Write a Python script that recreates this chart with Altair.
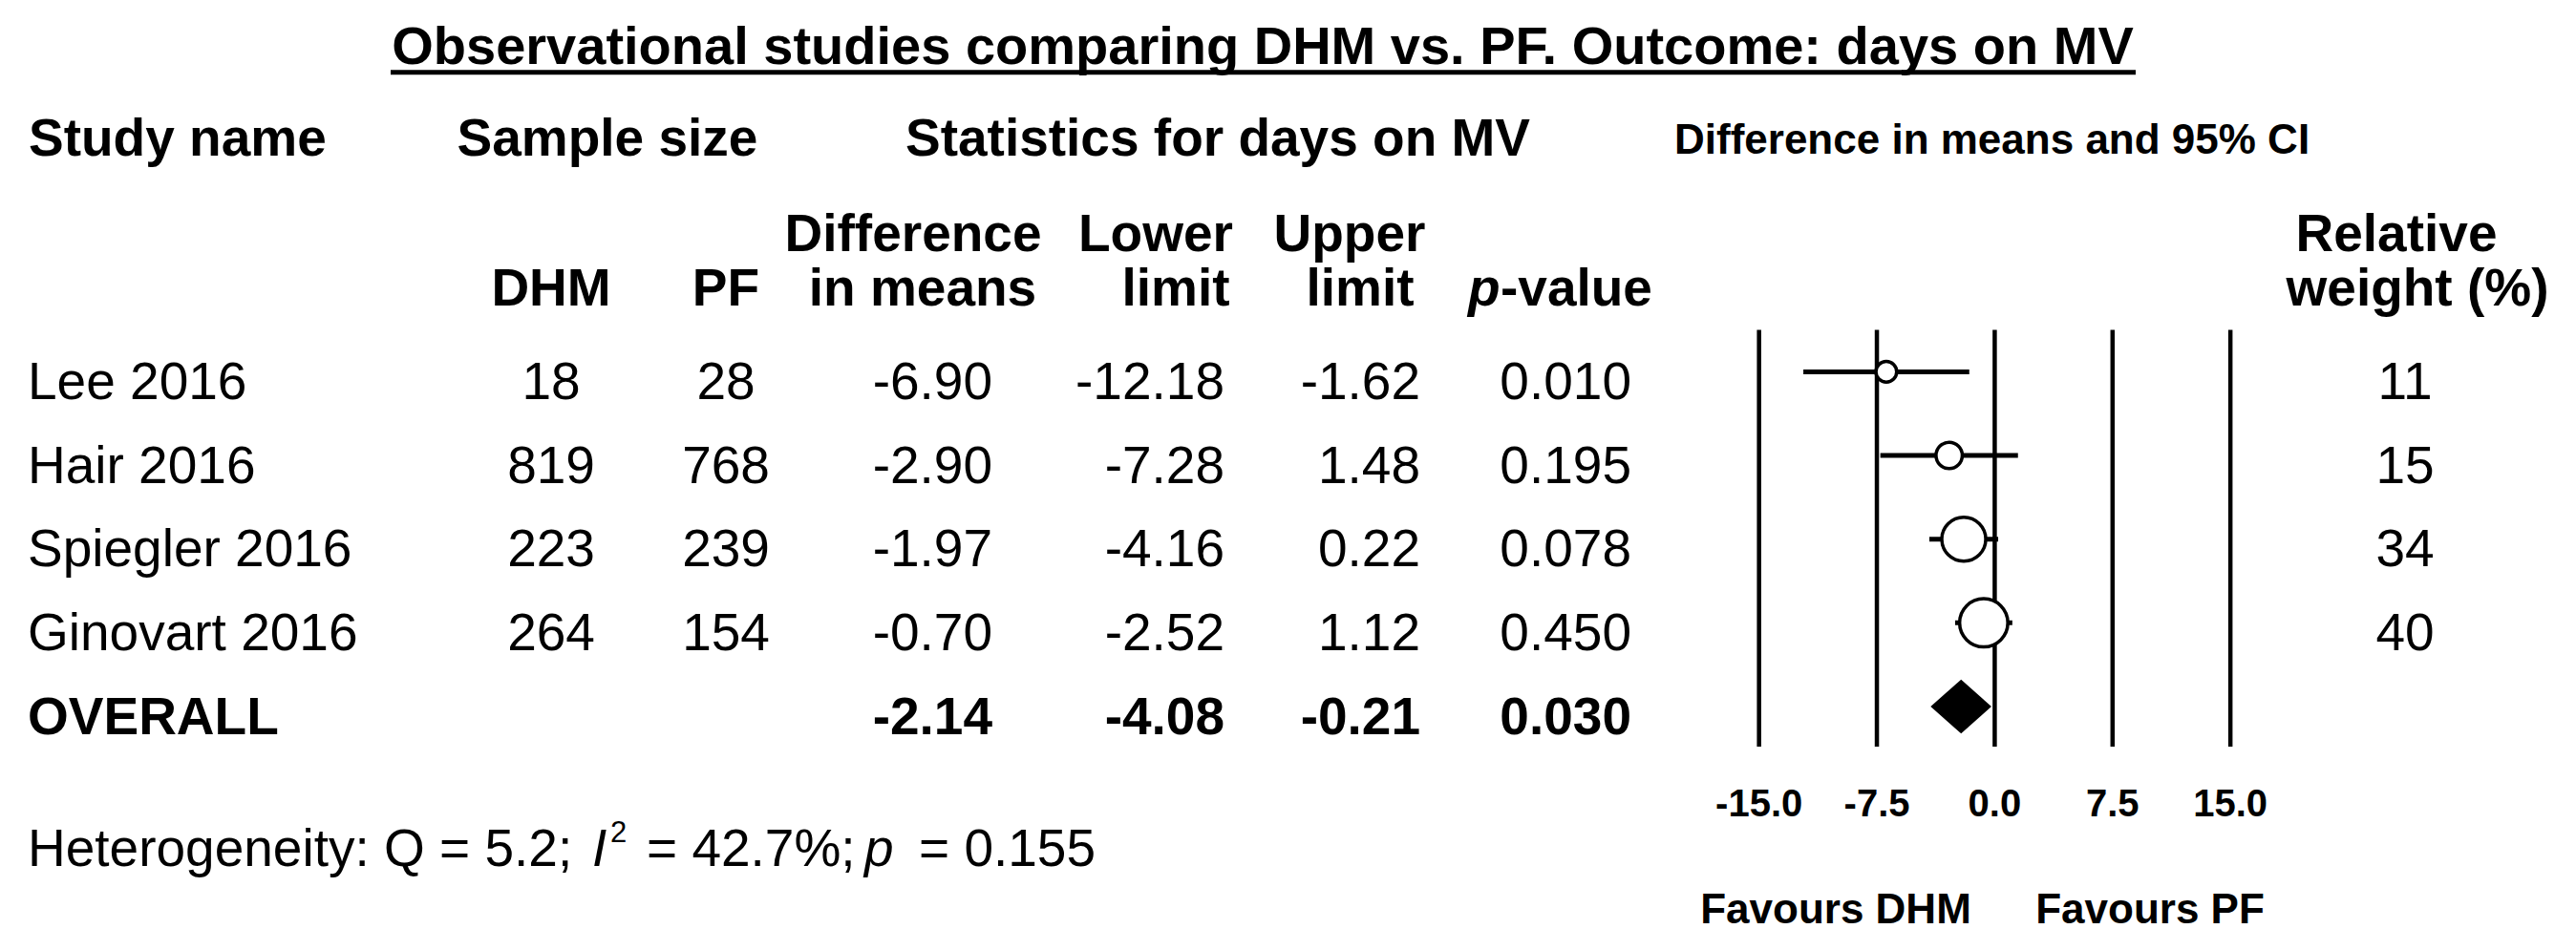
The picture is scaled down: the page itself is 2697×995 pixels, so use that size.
import altair as alt
import pandas as pd

# ---------------- data ----------------
studies = ["Lee 2016", "Hair 2016", "Spiegler 2016", "Ginovart 2016"]
dhm_n = [18, 819, 223, 264]
pf_n = [28, 768, 239, 154]
diff = [-6.90, -2.90, -1.97, -0.70]
lower = [-12.18, -7.28, -4.16, -2.52]
upper = [-1.62, 1.48, 0.22, 1.12]
pvals = [0.010, 0.195, 0.078, 0.450]
weights = [11, 15, 34, 40]

overall_label = "OVERALL"
overall_diff = -2.14
overall_lower = -4.08
overall_upper = -0.21
overall_p = 0.030

het_q = 5.2
het_i2 = 42.7
het_p = 0.155

ticks = [-15.0, -7.5, 0.0, 7.5, 15.0]
tick_labels = ["-15.0", "-7.5", "0.0", "7.5", "15.0"]

# ---------------- layout ----------------
FONT = "Liberation Sans"
W, H = 2681, 979
M = 8


def P(x):
    return x - M


def Q(y):
    return y - M


X_SCALE = alt.Scale(domain=[-126.47, 36.51], nice=False, zero=False)
Y_SCALE = alt.Scale(domain=[-4.3514, 6.818], reverse=True, nice=False, zero=False)
DY = 28.5
FS = 55

n = len(studies)
df = pd.DataFrame({
    "study": studies,
    "dhm": [str(v) for v in dhm_n],
    "pf": [str(v) for v in pf_n],
    "diff": diff,
    "lower": lower,
    "upper": upper,
    "p": pvals,
    "weight": weights,
    "row": list(range(n)),
})
df["diff_t"] = [f"{v:.2f}" for v in diff]
df["lower_t"] = [f"{v:.2f}" for v in lower]
df["upper_t"] = [f"{v:.2f}" for v in upper]
df["p_t"] = [f"{v:.3f}" for v in pvals]
df["w_t"] = [str(v) for v in weights]

ov = pd.DataFrame({
    "study": [overall_label],
    "diff": [overall_diff], "lower": [overall_lower], "upper": [overall_upper],
    "row": [n],
    "diff_t": [f"{overall_diff:.2f}"], "lower_t": [f"{overall_lower:.2f}"],
    "upper_t": [f"{overall_upper:.2f}"], "p_t": [f"{overall_p:.3f}"],
})

ticks_df = pd.DataFrame({"tick": ticks, "label": tick_labels})

layers = []

# vertical reference lines at tick values
RULE_TOP, RULE_BOTTOM = -0.5, n + 0.48
layers.append(
    alt.Chart(ticks_df).mark_rule(color="black", strokeWidth=4.5).encode(
        x=alt.X("tick:Q", scale=X_SCALE, axis=None),
        y=alt.Y("top:Q", scale=Y_SCALE, axis=None),
        y2="bottom:Q",
    ).transform_calculate(top=str(RULE_TOP), bottom=str(RULE_BOTTOM))
)

# confidence intervals
layers.append(
    alt.Chart(df).mark_rule(color="black", strokeWidth=5).encode(
        x=alt.X("lower:Q", scale=X_SCALE, axis=None),
        x2="upper:Q",
        y=alt.Y("row:Q", scale=Y_SCALE, axis=None),
    )
)

# study point estimates (symbol size = diameter^2 in Vega)
layers.append(
    alt.Chart(df).mark_point(shape="circle", filled=True, fill="white", stroke="black",
                             strokeWidth=3.5, opacity=1).encode(
        x=alt.X("diff:Q", scale=X_SCALE, axis=None),
        y=alt.Y("row:Q", scale=Y_SCALE, axis=None),
        size=alt.Size("weight:Q", scale=alt.Scale(domain=[11, 40], range=[470, 2550]), legend=None),
    )
)

# overall diamond
HALF = 0.323
dia = pd.DataFrame({
    "x": [overall_lower, overall_diff, overall_upper],
    "y": [n, n - HALF, n],
    "y2": [n, n + HALF, n],
})
layers.append(
    alt.Chart(dia).mark_area(color="black", orient="vertical").encode(
        x=alt.X("x:Q", scale=X_SCALE, axis=None),
        y=alt.Y("y:Q", scale=Y_SCALE, axis=None),
        y2="y2:Q",
    )
)


def col_text(data, field, xpage, align, bold=False, size=FS):
    return alt.Chart(data).mark_text(
        align=align, baseline="alphabetic", dy=DY, fontSize=size, font=FONT,
        fontWeight="bold" if bold else "normal", color="black",
    ).encode(
        x=alt.value(P(xpage)),
        y=alt.Y("row:Q", scale=Y_SCALE, axis=None),
        text=alt.Text(f"{field}:N"),
    )


# table columns (studies)
layers += [
    col_text(df, "study", 29, "left"),
    col_text(df, "dhm", 577, "center"),
    col_text(df, "pf", 760, "center"),
    col_text(df, "diff_t", 1039, "right"),
    col_text(df, "lower_t", 1282, "right"),
    col_text(df, "upper_t", 1487, "right"),
    col_text(df, "p_t", 1708, "right"),
    col_text(df, "w_t", 2518, "center"),
]
# overall row (bold)
layers += [
    col_text(ov, "study", 29, "left", bold=True),
    col_text(ov, "diff_t", 1039, "right", bold=True),
    col_text(ov, "lower_t", 1282, "right", bold=True),
    col_text(ov, "upper_t", 1487, "right", bold=True),
    col_text(ov, "p_t", 1708, "right", bold=True),
]

# x tick labels
layers.append(
    alt.Chart(ticks_df).mark_text(baseline="alphabetic", align="center", fontSize=40,
                                  font=FONT, fontWeight="bold", color="black").encode(
        x=alt.X("tick:Q", scale=X_SCALE, axis=None),
        y=alt.value(Q(855)),
        text="label:N",
    )
)


def label(txt, xpage, ypage, align="center", size=FS, weight="bold", style="normal"):
    return alt.Chart(pd.DataFrame({"t": [txt]})).mark_text(
        align=align, baseline="alphabetic", fontSize=size, font=FONT,
        fontWeight=weight, fontStyle=style, color="black",
    ).encode(x=alt.value(P(xpage)), y=alt.value(Q(ypage)), text="t:N")


title_txt = "Observational studies comparing DHM vs. PF. Outcome: days on MV"
layers += [
    label(title_txt, 1322, 67, size=56),
    label("Study name", 30, 163, align="left"),
    label("Sample size", 636, 163),
    label("Statistics for days on MV", 1275, 163),
    label("Difference in means and 95% CI", 1753, 161, align="left", size=44),
    label("Difference", 956, 263),
    label("in means", 966, 320),
    label("Lower", 1210, 263),
    label("limit", 1231, 320),
    label("Upper", 1413, 263),
    label("limit", 1424, 320),
    label("DHM", 577, 320),
    label("PF", 760, 320),
    label("p", 1537, 320, align="left", style="italic"),
    label("-value", 1571, 320, align="left"),
    label("Relative", 2509, 263),
    label("weight (%)", 2531, 320),
    label("Favours DHM", 1922, 967, size=44),
    label("Favours PF", 2251, 967, size=44),
    # heterogeneity line
    label(f"Heterogeneity: Q = {het_q};", 29, 907, align="left", weight="normal"),
    label("I", 620, 907, align="left", weight="normal", style="italic"),
    label("2", 639, 882, align="left", size=31, weight="normal"),
    label(f"= {het_i2}%;", 677, 907, align="left", weight="normal"),
    label("p", 905, 907, align="left", weight="normal", style="italic"),
    label(f"= {het_p}", 962, 907, align="left", weight="normal"),
]

# title underline
layers.append(
    alt.Chart(pd.DataFrame({"a": [0]})).mark_rule(color="black", strokeWidth=5).encode(
        x=alt.value(P(409)), x2=alt.value(P(2236)), y=alt.value(Q(75.8))
    )
)

chart = alt.layer(*layers).properties(
    width=W, height=H, padding=0, background="white",
    autosize=alt.AutoSizeParams(type="none"),
).configure_view(stroke=None)

chart.save("out.html", embed_options={"renderer": "svg", "actions": False})
